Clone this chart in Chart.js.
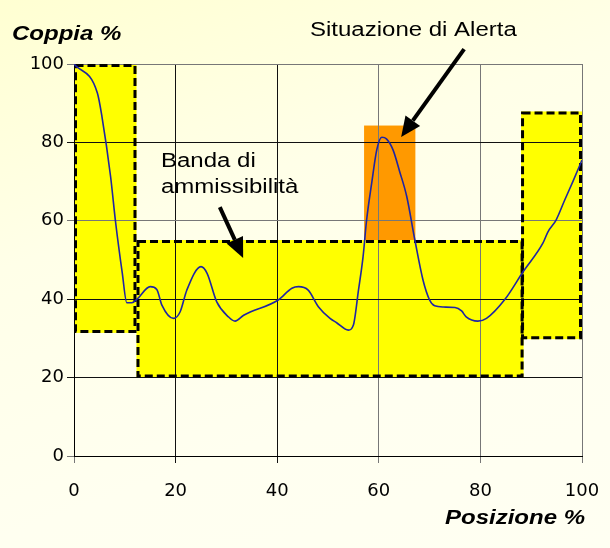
<!DOCTYPE html>
<html>
<head>
<meta charset="utf-8">
<script src="https://cdn.jsdelivr.net/npm/chart.js@4/dist/chart.umd.min.js"></script>
<style>
  html, body { margin: 0; padding: 0; }
  body {
    width: 610px; height: 548px; overflow: hidden;
    background: linear-gradient(160deg, #ffffd2 0%, #ffffe8 35%, #fffff0 70%, #fffff2 100%);
  }
  canvas { display: block; }
</style>
</head>
<body>
<canvas id="chart" width="610" height="548"></canvas>
<script>
// curva di coppia
const posX = [0, 4.6, 5.5, 7.2, 8.2, 9.5, 10.4, 11.4, 12.4, 15.0, 16.3, 17.3, 19.6, 20.9, 22.2, 25.0, 26.2, 28.1, 30.4,
  31.7, 33.4, 40.2, 42.9, 44.2, 46.1, 48.1, 50.4, 51.7, 54.0, 55.0, 56.0, 56.9, 57.6, 58.6, 59.6, 60.6, 61.5, 62.8, 64.1,
  65.5, 67.1, 68.7, 70.0, 71.0, 72.7, 75.0, 76.3, 77.2, 79.5, 81.2, 84.8, 88.4, 92.3, 93.3, 94.9, 96.6, 98.2, 100];
const coppia = [100, 92.6, 86.6, 71.3, 59.5, 46.7, 39.1, 39.1, 40, 43.2, 42.5, 38.5, 35.1, 36.8, 42.3, 48.3, 46.6, 39.3, 35.5,
  34.4, 35.9, 39.8, 42.8, 43.2, 42.3, 38.1, 35.1, 34.0, 32.1, 33.4, 42.3, 50.8, 60.2, 69.6, 78.1, 81.3, 80.9, 78.1, 72.6,
  66.2, 55.1, 44.9, 39.8, 38.3, 38.0, 37.9, 37.0, 35.5, 34.4, 35.1, 39.9, 47.0, 54.3, 57.2, 60.2, 65.3, 70.0, 75.5];

// banda di ammissibilita (tre rettangoli)
const bandFrom = [0, 12.3, 88.0];
const bandTo = [12.3, 88.5, 100];
const bandLow = [31.4, 20, 29.8];
const bandHigh = [100, 55.1, 87.9];

// situazione di alerta
const alertFrom = 57.1, alertTo = 67.2, alertLow = 55.1, alertHigh = 84.3;

// frecce: [x1, y1, x2, y2] in unita del grafico
const arrows = [
  [76.8, 103.8, 64.4, 81.4],
  [28.7, 63.5, 33.3, 50.5]
];

const ticksX = [0, 20, 40, 60, 80, 100];
const darkX = [20, 40];
const darkY = [20, 40, 80];

function rectPx(c, x0, x1, y0, y1) {
  const xs = c.scales.x, ys = c.scales.y;
  const l = xs.getPixelForValue(x0), r = xs.getPixelForValue(x1);
  const t = ys.getPixelForValue(y1), b = ys.getPixelForValue(y0);
  return [l, t, r - l, b - t];
}

function drawArrow(ctx, x1, y1, x2, y2) {
  const a = Math.atan2(y2 - y1, x2 - x1);
  const hl = 20, hw = 9;
  const bx = x2 - hl * Math.cos(a), by = y2 - hl * Math.sin(a);
  ctx.save();
  ctx.strokeStyle = "#000";
  ctx.fillStyle = "#000";
  ctx.lineWidth = 4;
  ctx.beginPath();
  ctx.moveTo(x1, y1);
  ctx.lineTo(bx, by);
  ctx.stroke();
  ctx.beginPath();
  ctx.moveTo(x2, y2);
  ctx.lineTo(bx + hw * Math.sin(a), by - hw * Math.cos(a));
  ctx.lineTo(bx - hw * Math.sin(a), by + hw * Math.cos(a));
  ctx.closePath();
  ctx.fill();
  ctx.restore();
}

function wideText(ctx, str, x, y, font, align) {
  ctx.save();
  ctx.font = font;
  ctx.fillStyle = "#000";
  ctx.textAlign = align || "left";
  ctx.textBaseline = "alphabetic";
  ctx.translate(x, y);
  ctx.scale(1.2, 1);
  ctx.fillText(str, 0, 0);
  ctx.restore();
}

const bandsPlugin = {
  id: "bands",
  beforeDraw(c) {
    const ctx = c.ctx;
    ctx.save();
    ctx.fillStyle = "#ffff00";
    for (let i = 0; i < bandFrom.length; i++) {
      ctx.fillRect(...rectPx(c, bandFrom[i], bandTo[i], bandLow[i], bandHigh[i]));
    }
    ctx.fillStyle = "#ff9900";
    ctx.fillRect(...rectPx(c, alertFrom, alertTo, alertLow, alertHigh));
    ctx.restore();
  },
  beforeDatasetsDraw(c) {
    const ctx = c.ctx;
    ctx.save();
    ctx.strokeStyle = "#000";
    ctx.lineWidth = 3;
    ctx.setLineDash([8, 4]);
    for (let i = 0; i < bandFrom.length; i++) {
      const [l, t, w, h] = rectPx(c, bandFrom[i], bandTo[i], bandLow[i], bandHigh[i]);
      ctx.strokeRect(l + 1.5, t + 1.5, w - 3, h - 3);
    }
    ctx.restore();
    arrows.forEach(a => {
      drawArrow(ctx, c.scales.x.getPixelForValue(a[0]), c.scales.y.getPixelForValue(a[1]),
        c.scales.x.getPixelForValue(a[2]), c.scales.y.getPixelForValue(a[3]));
    });
  },
  afterDraw(c) {
    const ctx = c.ctx;
    wideText(ctx, "Coppia %", 12, 40, "italic bold 20px 'Liberation Sans', Arial", "left");
    wideText(ctx, "Posizione %", 585, 524, "italic bold 20px 'Liberation Sans', Arial", "right");
    wideText(ctx, "Situazione di Alerta", 310, 36, "20px 'Liberation Sans', Arial", "left");
    wideText(ctx, "Banda di", 161, 167, "20px 'Liberation Sans', Arial", "left");
    wideText(ctx, "ammissibilità", 161, 193, "20px 'Liberation Sans', Arial", "left");
  }
};

const ctx = document.getElementById("chart").getContext("2d");
const chart = new Chart(ctx, {
  type: "line",
  data: {
    datasets: [
      {
        label: "Coppia",
        data: posX.map((x, i) => ({ x: x, y: coppia[i] })),
        borderColor: "#1f25a3",
        borderWidth: 1.6,
        pointRadius: 0,
        fill: false,
        cubicInterpolationMode: "monotone"
      }
    ]
  },
  options: {
    responsive: false,
    animation: false,
    devicePixelRatio: 1,
    layout: { padding: { top: 64, right: 28, left: 0, bottom: 0 } },
    plugins: { legend: { display: false }, tooltip: { enabled: false } },
    scales: {
      x: {
        type: "linear",
        min: 0,
        max: 100,
        afterFit: s => { s.height = 92; s.paddingLeft = 0; s.paddingRight = 0; },
        afterBuildTicks: s => { s.ticks = ticksX.map(v => ({ value: v })); },
        ticks: {
          color: "#000",
          padding: 18,
          font: { family: "'DejaVu Sans'", size: 18 }
        },
        grid: {
          color: c => darkX.includes(c.tick && c.tick.value) ? "#111" : "#777",
          lineWidth: 1,
          tickLength: 7
        },
        border: { color: "#000", width: 1 }
      },
      y: {
        min: 0,
        max: 100,
        afterFit: s => { s.width = 74; },
        ticks: {
          stepSize: 20,
          color: "#000",
          padding: 3,
          font: { family: "'DejaVu Sans'", size: 18 }
        },
        grid: {
          color: c => darkY.includes(c.tick && c.tick.value) ? "#111" : "#777",
          lineWidth: 1,
          tickLength: 7
        },
        border: { color: "#000", width: 1 }
      }
    }
  },
  plugins: [bandsPlugin]
});
</script>
</body>
</html>
